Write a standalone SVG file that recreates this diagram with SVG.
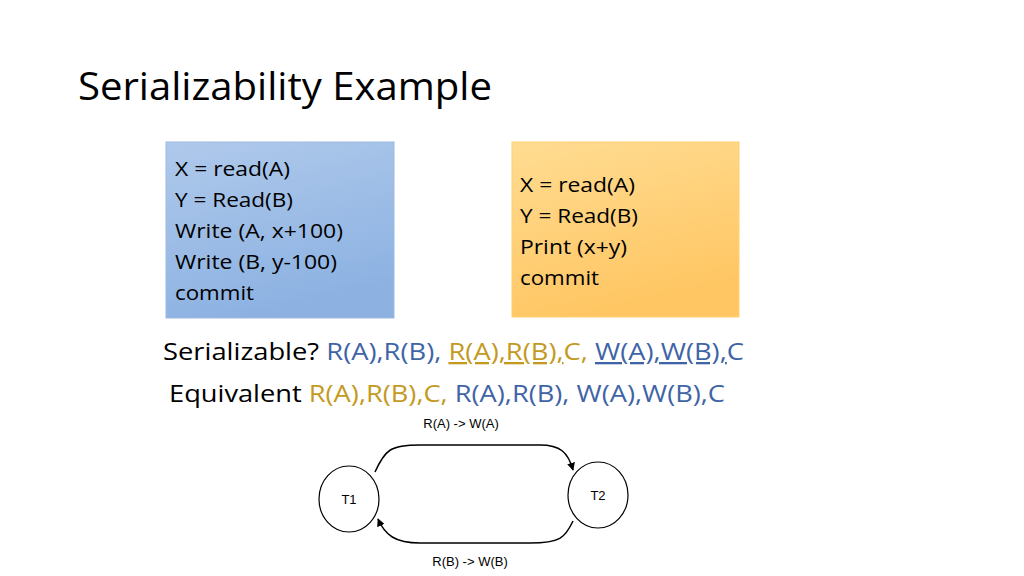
<svg xmlns="http://www.w3.org/2000/svg" width="1024" height="576" viewBox="0 0 1024 576">
<style>
.c{font-family:"Open Sans","Noto Sans",sans-serif;fill:#000}
.b{fill:#3F64A6}.g{fill:#C49A1E}
.a{font-family:"Liberation Sans",Arial,sans-serif;font-size:13px;fill:#000}
.e{fill:none;stroke:#000;stroke-width:1.5}
</style>
<defs>
<linearGradient id="bl" x1="0" y1="0" x2="0.3" y2="1"><stop offset="0" stop-color="#AFC9EB"/><stop offset="1" stop-color="#8DB2E2"/></linearGradient>
<linearGradient id="or" x1="0" y1="0" x2="0.3" y2="1"><stop offset="0" stop-color="#FFDC92"/><stop offset="1" stop-color="#FFC663"/></linearGradient>
<marker id="ar" viewBox="0 0 10 10" refX="9" refY="5" markerWidth="8" markerHeight="8" orient="auto" markerUnits="userSpaceOnUse"><path d="M0,0L10,5L0,10z" fill="#000"/></marker>
</defs>
<rect width="1024" height="576" fill="#fff"/>
<text class="c" x="78" y="100" font-size="38" fill="#262626" textLength="414" lengthAdjust="spacingAndGlyphs">Serializability Example</text>
<g id="box1">
<rect x="166" y="142" width="228" height="176" fill="url(#bl)" stroke="#9DB9E0"/>
<g class="c" font-size="20">
<text x="175" y="176" textLength="115" lengthAdjust="spacingAndGlyphs">X = read(A)</text>
<text x="175" y="207" textLength="118" lengthAdjust="spacingAndGlyphs">Y = Read(B)</text>
<text x="175" y="238" textLength="168" lengthAdjust="spacingAndGlyphs">Write (A, x+100)</text>
<text x="175" y="269" textLength="162" lengthAdjust="spacingAndGlyphs">Write (B, y-100)</text>
<text x="175" y="300" textLength="79" lengthAdjust="spacingAndGlyphs">commit</text>
</g></g>
<g id="box2">
<rect x="512" y="142" width="227" height="175" fill="url(#or)" stroke="#FFD070"/>
<g class="c" font-size="20">
<text x="520" y="192" textLength="115" lengthAdjust="spacingAndGlyphs">X = read(A)</text>
<text x="520" y="223" textLength="118" lengthAdjust="spacingAndGlyphs">Y = Read(B)</text>
<text x="520" y="254" textLength="107" lengthAdjust="spacingAndGlyphs">Print (x+y)</text>
<text x="520" y="285" textLength="79" lengthAdjust="spacingAndGlyphs">commit</text>
</g></g>
<g class="c" font-size="23">
<text x="163" y="360" textLength="581" lengthAdjust="spacingAndGlyphs">Serializable? <tspan class="b">R(A),R(B), </tspan><tspan class="g" text-decoration="underline">R(A),R(B),</tspan><tspan class="g">C, </tspan><tspan class="b" text-decoration="underline">W(A),W(B),</tspan><tspan class="b">C</tspan></text>
<text x="169" y="402" textLength="556" lengthAdjust="spacingAndGlyphs">Equivalent <tspan class="g">R(A),R(B),C, </tspan><tspan class="b">R(A),R(B), W(A),W(B),C</tspan></text>
</g>
<g id="connectors">
<path class="e" d="M375,472 C385,450 390,445 420,445 L540,445 C560,445 568,452 573,470" marker-end="url(#ar)"/>
<path class="e" d="M573,521 C565,538 560,543 530,543 L420,543 C395,543 385,535 378,519" marker-end="url(#ar)"/>
<text class="a" x="461" y="428" text-anchor="middle">R(A) -&gt; W(A)</text>
<text class="a" x="470" y="566" text-anchor="middle">R(B) -&gt; W(B)</text>
</g>
<g id="T1"><ellipse cx="349" cy="499" rx="30" ry="33" fill="#fff" stroke="#000" stroke-width="1.2"/><text class="a" x="349" y="504" text-anchor="middle">T1</text></g>
<g id="T2"><ellipse cx="598" cy="495" rx="30" ry="33" fill="#fff" stroke="#000" stroke-width="1.2"/><text class="a" x="598" y="500" text-anchor="middle">T2</text></g>
</svg>
